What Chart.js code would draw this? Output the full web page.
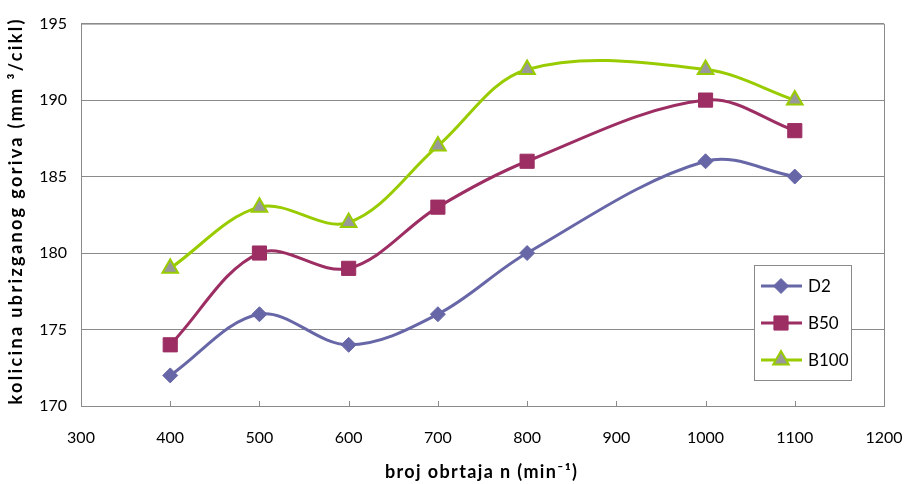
<!DOCTYPE html>
<html>
<head>
<meta charset="utf-8">
<script src="https://cdn.jsdelivr.net/npm/chart.js@4.4.0/dist/chart.umd.min.js"></script>
<style>
    html, body { margin: 0; padding: 0; background: #fff; }
    #wrap { width: 904px; height: 484px; }
</style>
</head>
<body>
<div id="wrap"><canvas id="fuelChart" width="904" height="484"></canvas></div>
<script>
// Data
const rpm = [400, 500, 600, 700, 800, 1000, 1100];
const d2 = [172, 176, 174, 176, 180, 186, 185];
const b50 = [174, 180, 179, 183, 186, 190, 188];
const b100 = [179, 183, 182, 187, 192, 192, 190];
const seriesNames = ['D2', 'B50', 'B100'];
const xTitle = 'broj obrtaja n (min⁻¹)';
const yTitle = 'kolicina ubrizganog goriva (mm ³/cikl)';

const FONT = 'Lato, "Open Sans", sans-serif';
const GRID = '#8a8a8a';

function toPoints(values) {
    return rpm.map((x, i) => ({ x: x, y: values[i] }));
}

// Plot frame (top / right) and inward x tick marks
const framePlugin = {
    id: 'frame',
    afterDraw(chart) {
        const { ctx, chartArea: a } = chart;
        const xs = chart.scales.x;
        ctx.save();
        ctx.strokeStyle = GRID;
        ctx.lineWidth = 1;
        ctx.beginPath();
        ctx.moveTo(a.left, a.top + 0.5);
        ctx.lineTo(a.right + 0.5, a.top + 0.5);
        ctx.lineTo(a.right + 0.5, a.bottom);
        ctx.stroke();
        ctx.beginPath();
        xs.ticks.forEach(t => {
            const px = Math.round(xs.getPixelForValue(t.value)) + 0.5;
            ctx.moveTo(px, a.bottom);
            ctx.lineTo(px, a.bottom - 5);
        });
        ctx.stroke();
        ctx.restore();
    }
};

// draw text spread out to a given length (the original titles are letter spaced)
function spacedText(ctx, text, x, y, length) {
    ctx.letterSpacing = '0px';
    const w = ctx.measureText(text).width;
    const n = [...text].length;
    const sp = (length - w) / (n - 1);
    ctx.letterSpacing = sp.toFixed(2) + 'px';
    ctx.fillText(text, x + sp / 2, y);
}

// Axis titles
const titlePlugin = {
    id: 'titles',
    afterDraw(chart) {
        const { ctx } = chart;
        ctx.save();
        ctx.fillStyle = '#000';
        ctx.font = 'bold 18px ' + FONT;
        ctx.textAlign = 'center';
        ctx.textBaseline = 'middle';
        spacedText(ctx, xTitle, 481, 472, 192);
        ctx.translate(16, 212);
        ctx.rotate(-Math.PI / 2);
        spacedText(ctx, yTitle, 0, 0, 385);
        ctx.restore();
    }
};

// Boxed legend inside the plot area
const legendPlugin = {
    id: 'boxLegend',
    afterDraw(chart) {
        const { ctx } = chart;
        const box = { x: 754, y: 265, w: 97, h: 115 };
        ctx.save();
        ctx.fillStyle = '#fff';
        ctx.fillRect(box.x, box.y, box.w, box.h);
        ctx.strokeStyle = GRID;
        ctx.lineWidth = 1;
        ctx.strokeRect(box.x + 0.5, box.y + 0.5, box.w, box.h);
        chart.data.datasets.forEach((ds, i) => {
            const y = 286 + i * 37;
            ctx.strokeStyle = ds.borderColor;
            ctx.lineWidth = ds.borderWidth;
            ctx.beginPath();
            ctx.moveTo(761, y);
            ctx.lineTo(802, y);
            ctx.stroke();
            ctx.fillStyle = ds.pointBackgroundColor;
            ctx.strokeStyle = ds.pointBorderColor;
            ctx.lineWidth = ds.pointBorderWidth;
            Chart.helpers.drawPoint(ctx, {
                pointStyle: ds.pointStyle,
                radius: ds.pointRadius,
                borderWidth: ds.pointBorderWidth,
                rotation: 0
            }, 781, y);
            ctx.fillStyle = '#000';
            ctx.font = '17px ' + FONT;
            ctx.textAlign = 'left';
            ctx.textBaseline = 'middle';
            ctx.fillText(ds.label, 808, y + 1);
        });
        ctx.restore();
    }
};

new Chart(document.getElementById('fuelChart'), {
    type: 'line',
    data: {
        datasets: [{
            label: seriesNames[0],
            data: toPoints(d2),
            borderColor: '#6767a8',
            borderWidth: 3,
            pointStyle: 'rectRot',
            pointRadius: 7.5,
            pointBackgroundColor: '#6767a8',
            pointBorderColor: '#6767a8',
            pointBorderWidth: 1,
            tension: 0.35
        }, {
            label: seriesNames[1],
            data: toPoints(b50),
            borderColor: '#9c2e63',
            borderWidth: 3,
            pointStyle: 'rect',
            pointRadius: 10,
            pointBackgroundColor: '#9c2e63',
            pointBorderColor: '#9c2e63',
            pointBorderWidth: 1,
            tension: 0.35
        }, {
            label: seriesNames[2],
            data: toPoints(b100),
            borderColor: '#99cc00',
            borderWidth: 3,
            pointStyle: 'triangle',
            pointRadius: 9,
            pointBackgroundColor: '#999999',
            pointBorderColor: '#99cc00',
            pointBorderWidth: 2,
            tension: 0.35
        }]
    },
    options: {
        responsive: false,
        animation: false,
        layout: { padding: { top: 20, right: 20, left: 0, bottom: 0 } },
        plugins: {
            legend: { display: false },
            tooltip: { enabled: false }
        },
        scales: {
            x: {
                type: 'linear',
                min: 300,
                max: 1200,
                ticks: {
                    stepSize: 100, padding: 22, color: '#000',
                    font: { family: FONT, size: 16 },
                    callback: v => String(v)
                },
                grid: { display: false, drawTicks: false },
                border: { display: true, color: GRID, width: 1 },
                afterFit(s) { s.height = 78; s.paddingLeft = 0; s.paddingRight = 0; }
            },
            y: {
                min: 170,
                max: 195,
                ticks: { stepSize: 5, padding: 14, color: '#000', font: { family: FONT, size: 16 } },
                grid: { color: GRID, lineWidth: 1, drawTicks: false },
                border: { display: true, color: GRID, width: 1 },
                afterFit(s) { s.width = 81; }
            }
        }
    },
    plugins: [framePlugin, titlePlugin, legendPlugin]
});
</script>
</body>
</html>
